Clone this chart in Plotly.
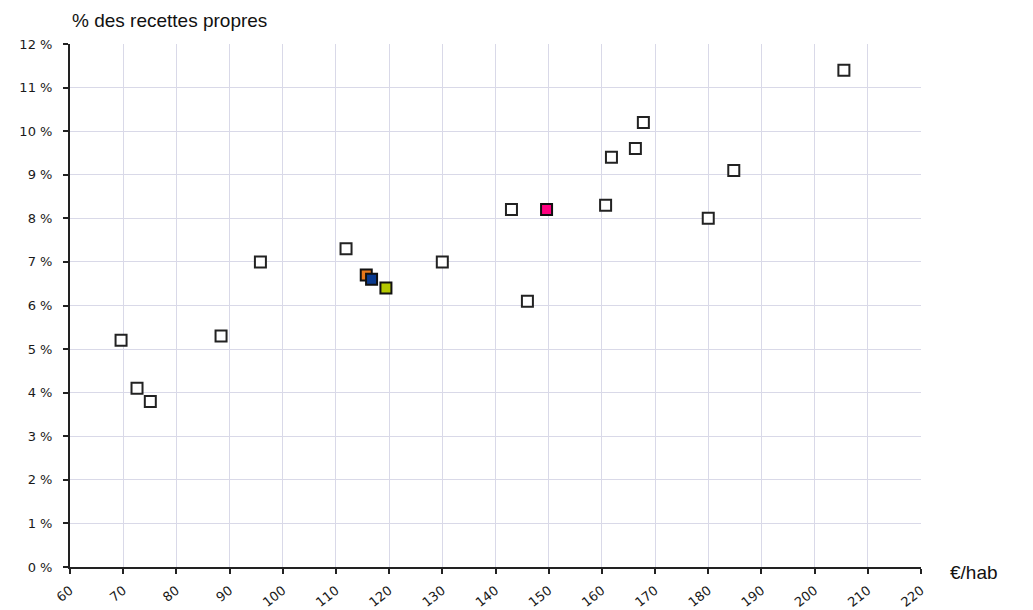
import plotly.graph_objects as go

# Data (€/hab, % des recettes propres)
x_white = [69.6, 72.6, 75.1, 88.4, 95.8, 111.9, 130.0, 143.0, 146.0, 160.7, 161.8, 166.3, 167.8, 180.0, 184.8, 205.5]
y_white = [5.2, 4.1, 3.8, 5.3, 7.0, 7.3, 7.0, 8.2, 6.1, 8.3, 9.4, 9.6, 10.2, 8.0, 9.1, 11.4]

x_colored = [115.7, 116.7, 119.4, 149.6]
y_colored = [6.7, 6.6, 6.4, 8.2]
colored_fill = ["#E8781C", "#0A3A8F", "#B4C800", "#FF0080"]

x_ticks = list(range(60, 221, 10))
y_ticks = list(range(0, 13))
y_tick_labels = [f"{v} %" for v in y_ticks]

fig = go.Figure()
fig.add_trace(go.Scatter(
    x=x_white, y=y_white, mode="markers",
    marker=dict(symbol="square", size=11, color="white",
                line=dict(color="#222222", width=2)),
    showlegend=False, hoverinfo="x+y"))
for xv, yv, c in zip(x_colored, y_colored, colored_fill):
    fig.add_trace(go.Scatter(
        x=[xv], y=[yv], mode="markers",
        marker=dict(symbol="square", size=11, color=c,
                    line=dict(color="#111111", width=2)),
        showlegend=False, hoverinfo="x+y"))

axis_font = dict(family="DejaVu Sans", size=13, color="#1a1a1a")
fig.update_layout(
    width=1025, height=602,
    margin=dict(l=62, r=112, t=36, b=43, autoexpand=False),
    paper_bgcolor="white", plot_bgcolor="white",
    xaxis=dict(range=[60, 220], tickvals=x_ticks, ticktext=[str(v) for v in x_ticks],
               tickangle=-38, ticks="outside", ticklen=5, tickwidth=1.5, tickcolor="#222222",
               showline=True, linecolor="#222222", linewidth=2,
               showgrid=True, gridcolor="#D9D9E8", gridwidth=1, zeroline=False,
               tickfont=axis_font, fixedrange=True, automargin=False,
               ticklabelstandoff=4),
    yaxis=dict(range=[0, 12], tickvals=y_ticks, ticktext=y_tick_labels,
               ticks="outside", ticklen=5, tickwidth=1.5, tickcolor="#222222",
               showline=True, linecolor="#222222", linewidth=2,
               showgrid=True, gridcolor="#D9D9E8", gridwidth=1, zeroline=False,
               tickfont=axis_font, fixedrange=True, automargin=False,
               ticklabelstandoff=8),
    annotations=[
        dict(text="% des recettes propres", xref="paper", yref="paper",
             x=0.0, y=1.0, xanchor="left", yanchor="middle", yshift=24, xshift=0,
             showarrow=False, font=dict(family="Liberation Sans", size=19, color="#111111")),
        dict(text="€/hab", xref="paper", yref="paper",
             x=1.0, y=0.0, xanchor="left", yanchor="middle", xshift=27, yshift=-5,
             showarrow=False, font=dict(family="Liberation Sans", size=19, color="#111111")),
    ],
)
fig.write_html("out.html")
